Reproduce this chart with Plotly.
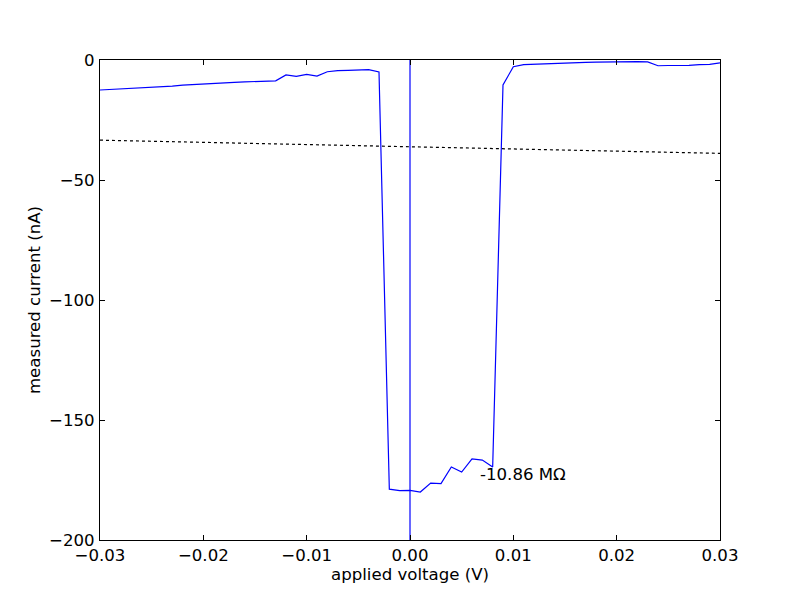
import plotly.graph_objects as go

voltage = [-0.030, -0.029, -0.028, -0.027, -0.026, -0.025, -0.024, -0.023, -0.022, -0.021,
           -0.020, -0.019, -0.018, -0.017, -0.016, -0.015, -0.014, -0.013, -0.012, -0.011,
           -0.010, -0.009, -0.008, -0.007, -0.006, -0.005, -0.004, -0.003, -0.002, -0.001,
           0.000, 0.001, 0.002, 0.003, 0.004, 0.005, 0.006, 0.007, 0.008, 0.009,
           0.010, 0.011, 0.012, 0.013, 0.014, 0.015, 0.016, 0.017, 0.018, 0.019,
           0.020, 0.021, 0.022, 0.023, 0.024, 0.025, 0.026, 0.027, 0.028, 0.029, 0.030]
current = [-12.5, -12.3, -12.0, -11.7, -11.6, -11.5, -11.2, -10.9, -10.5, -10.2,
           -10.0, -9.8, -9.5, -9.3, -9.1, -9.0, -8.9, -8.7, -6.2, -6.8,
           -6.0, -6.7, -4.9, -4.4, -4.3, -4.3, -4.0, -5.0, -178.8, -179.4,
           -179.3, -180.0, -176.3, -176.5, -169.6, -171.7, -166.2, -166.7, -169.6, -10.4,
           -2.8, -1.9, -1.7, -1.6, -1.5, -1.4, -1.2, -1.0, -0.9, -0.8,
           -0.7, -0.7, -0.7, -0.8, -2.4, -2.3, -2.3, -2.2, -1.9, -1.8, -1.2]

fit_v = [-0.03, 0.03]
fit_i = [-33.4, -38.9]

vline_v = [0.0, 0.0]
vline_i = [-200, 0]

label_text = "-10.86 MΩ"
label_pos = (0.0066, -172.5)

xtick_vals = [-0.03, -0.02, -0.01, 0.0, 0.01, 0.02, 0.03]
xtick_text = ["\u22120.03", "\u22120.02", "\u22120.01", "0.00", "0.01", "0.02", "0.03"]
ytick_vals = [0, -50, -100, -150, -200]
ytick_text = ["0", "\u221250", "\u2212100", "\u2212150", "\u2212200"]

font = dict(family="DejaVu Sans", size=16.6, color="black")

fig = go.Figure()
fig.add_trace(go.Scatter(x=voltage, y=current, mode="lines",
                         line=dict(color="#0000ff", width=1.2), showlegend=False))
fig.add_trace(go.Scatter(x=fit_v, y=fit_i, mode="lines",
                         line=dict(color="black", width=1.2, dash="dot"), showlegend=False))
fig.add_trace(go.Scatter(x=vline_v, y=vline_i, mode="lines",
                         line=dict(color="#0000ff", width=1.2), showlegend=False))

fig.add_annotation(x=label_pos[0], y=label_pos[1], text=label_text, showarrow=False,
                   xanchor="left", yanchor="middle", font=font)

# page body adds an 8px offset, so margins compensate to place the plot area at 100..720 x 60..540
fig.update_layout(
    width=800, height=600,
    margin=dict(l=92, r=88, t=52, b=68),
    paper_bgcolor="white", plot_bgcolor="white",
    font=font,
    xaxis=dict(range=[-0.03, 0.03], tickvals=xtick_vals, ticktext=xtick_text,
               ticks="inside", ticklen=5, tickcolor="black", mirror="allticks",
               showline=True, linecolor="black", linewidth=1, showgrid=False,
               zeroline=False, automargin=False, ticklabelstandoff=0,
               title=dict(text="applied voltage (V)", font=font, standoff=0)),
    yaxis=dict(range=[-200, 0], tickvals=ytick_vals, ticktext=ytick_text,
               ticks="inside", ticklen=5, tickcolor="black", mirror="allticks",
               showline=True, linecolor="black", linewidth=1, showgrid=False,
               zeroline=False, automargin=False, ticklabelstandoff=1,
               title=dict(text="measured current (nA)", font=font, standoff=4)),
)

fig.write_html("out.html")
